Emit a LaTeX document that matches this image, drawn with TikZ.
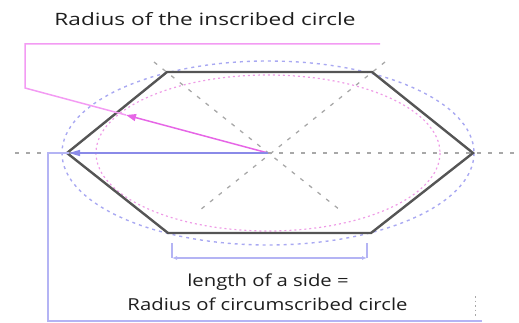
\documentclass[tikz,border=0pt]{standalone}
\usepackage{graphicx}
\usepackage{fontspec}
\setmainfont{Open Sans}
\usetikzlibrary{arrows.meta}
\definecolor{hexgray}{HTML}{555555}
\definecolor{guidegray}{HTML}{A8A8A8}
\definecolor{circblue}{HTML}{A9A9F2}
\definecolor{inpink}{HTML}{EE9BE6}
\definecolor{pinklight}{HTML}{F39BF3}
\definecolor{pinkdark}{HTML}{E040E0}
\definecolor{bluedark}{HTML}{8A8AE8}
\definecolor{bluelight}{HTML}{B4B4F4}
\definecolor{txt}{HTML}{1E1E1E}
\begin{document}
\begin{tikzpicture}[x=1pt,y=-1pt,
  hexline/.style={draw=hexgray, line width=2.4pt, line join=miter},
  guide/.style={draw=guidegray, dash pattern=on 4pt off 7pt, line width=1.3pt},
  circ/.style={draw=circblue, dash pattern=on 3pt off 4pt, line width=1.4pt},
  incirc/.style={draw=inpink, dash pattern=on 2pt off 3pt, line width=1.2pt},
  pinkbr/.style={draw=pinklight, line width=1.5pt},
  pinkray/.style={draw=pinkdark!80, line width=1.5pt},
  bluebr/.style={draw=bluelight, line width=1.5pt},
  blueray/.style={draw=bluedark, line width=1.5pt},
  lbl/.style={text=txt, inner sep=0pt, anchor=base}]
\useasboundingbox (0,0) rectangle (519,323);
% geometry
\coordinate (O) at (268,153);
\coordinate (A) at (67,153);
\coordinate (B) at (167,72);
\coordinate (C) at (372,72);
\coordinate (D) at (473,153);
\coordinate (E) at (371,233);
\coordinate (F) at (168,233);
% guide lines
\coordinate (G1) at (15,153);
\coordinate (G2) at (519,153);
\coordinate (G3) at (154,62);
\coordinate (G4) at (340,210);
\coordinate (G5) at (385,62);
\coordinate (G6) at (200,210);
\draw[guide] (G1) -- (G2);
\draw[guide] (G3) -- (G4);
\draw[guide] (G5) -- (G6);
% circles
\draw[circ] (O) ellipse [x radius=206, y radius=92];
\draw[incirc] (O) ellipse [x radius=172, y radius=78];
% hexagon
\draw[hexline] (A) -- (B) -- (C) -- (D) -- (E) -- (F) -- cycle;
% inscribed radius callout
\coordinate (PT) at (126,115);
\coordinate (P1) at (25,88);
\coordinate (P2) at (25,44);
\coordinate (P3) at (380,44);
\draw[pinkbr] (PT) -- (P1) -- (P2) -- (P3);
\draw[pinkray, -{Triangle[length=10pt,width=7pt]}] (O) -- (PT);
% circumscribed radius callout
\coordinate (AT) at (69,153);
\coordinate (B1) at (48,153);
\coordinate (B2) at (48,321);
\coordinate (B3) at (482,321);
\draw[bluebr] (AT) -- (B1) -- (B2) -- (B3);
\draw[blueray, -{Triangle[length=11pt,width=6pt]}] (O) -- (AT);
\coordinate (M1) at (475,296);
\coordinate (M2) at (475,316);
\draw[draw=guidegray, line width=1pt, dash pattern=on 1.5pt off 3pt] (M1) -- (M2);
% side-length bracket
\coordinate (S1) at (172,243);
\coordinate (S2) at (172,258);
\coordinate (S3) at (367,258);
\coordinate (S4) at (367,243);
\draw[bluebr] (S1) -- (S2);
\draw[bluebr] (S4) -- (S3);
\draw[bluebr, {Latex[length=5pt,width=4pt]}-{Latex[length=5pt,width=4pt]}] (S2) -- (S3);
% labels
\node[lbl] (title) at (205,26) {\fontsize{17}{20}\selectfont\scalebox{1.33}[1]{Radius of the inscribed circle}};
\node[lbl] (side1) at (268,286) {\fontsize{16.5}{20}\selectfont\scalebox{1.23}[1]{length of a side =}};
\node[lbl] (side2) at (267.5,310) {\fontsize{16.5}{20}\selectfont\scalebox{1.23}[1]{Radius of circumscribed circle}};
\end{tikzpicture}
\end{document}
